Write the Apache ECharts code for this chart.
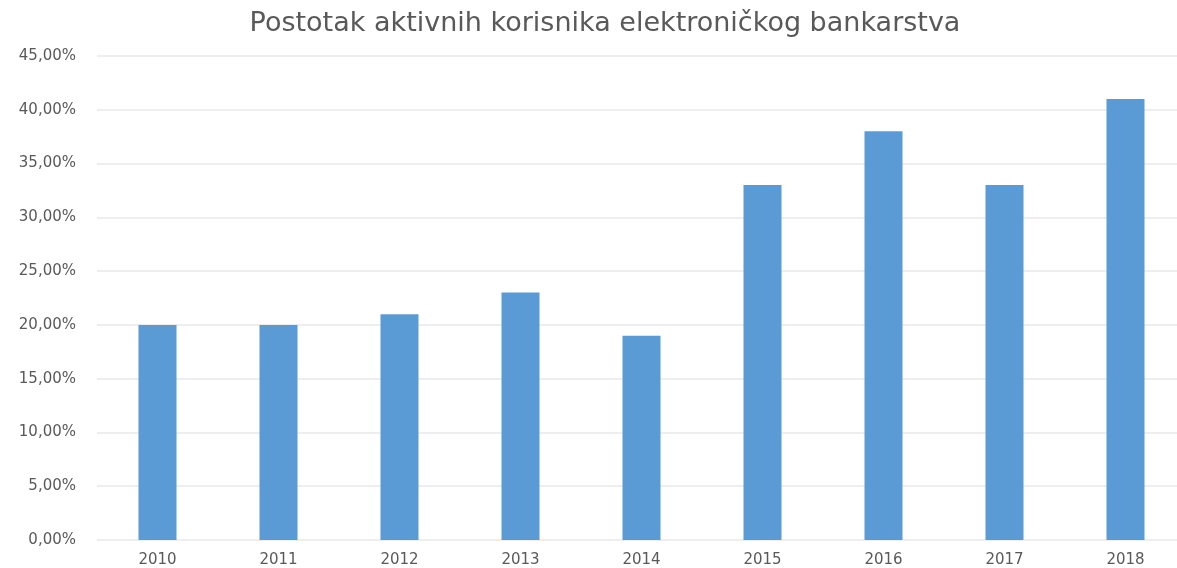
<!DOCTYPE html>
<html><head><meta charset="utf-8">
<script src="https://cdn.jsdelivr.net/npm/echarts@6/dist/echarts.min.js"></script>
<style>html,body{margin:0;padding:0;background:#fff;overflow:hidden;width:1177px;height:568px}#c{width:1186px;height:568px}</style>
</head><body><div id="c"></div>
<script>
const titleText = 'Postotak aktivnih korisnika elektroničkog bankarstva';
const years = ['2010','2011','2012','2013','2014','2015','2016','2017','2018'];
const values = [20, 20, 21, 23, 19, 33, 38, 33, 41];
const chart = echarts.init(document.getElementById('c'), null, {renderer:'canvas'});
chart.setOption({
  animation:false,
  backgroundColor:'#fff',
  title:{text:titleText,left:600,textAlign:'center',top:5,
    textStyle:{fontFamily:'DejaVu Sans',fontSize:27,fontWeight:'normal',color:'#595959'}},
  grid:{left:97,right:0,top:56,bottom:27,containLabel:false},
  xAxis:{type:'category',data:years,
    axisLine:{show:false},axisTick:{show:false},
    axisLabel:{color:'#595959',fontFamily:'DejaVu Sans',fontSize:15,margin:13}},
  yAxis:{type:'value',min:0,max:45,interval:5,
    axisLine:{show:false},axisTick:{show:false},
    splitLine:{lineStyle:{color:'#e8e8e8',width:1.5}},
    axisLabel:{color:'#595959',fontFamily:'DejaVu Sans',fontSize:15,margin:21,
      formatter:v=>v.toFixed(2).replace('.',',')+'%'}},
  series:[{type:'bar',data:values,barWidth:38,itemStyle:{color:'#5B9BD5'}}]
});
</script></body></html>
